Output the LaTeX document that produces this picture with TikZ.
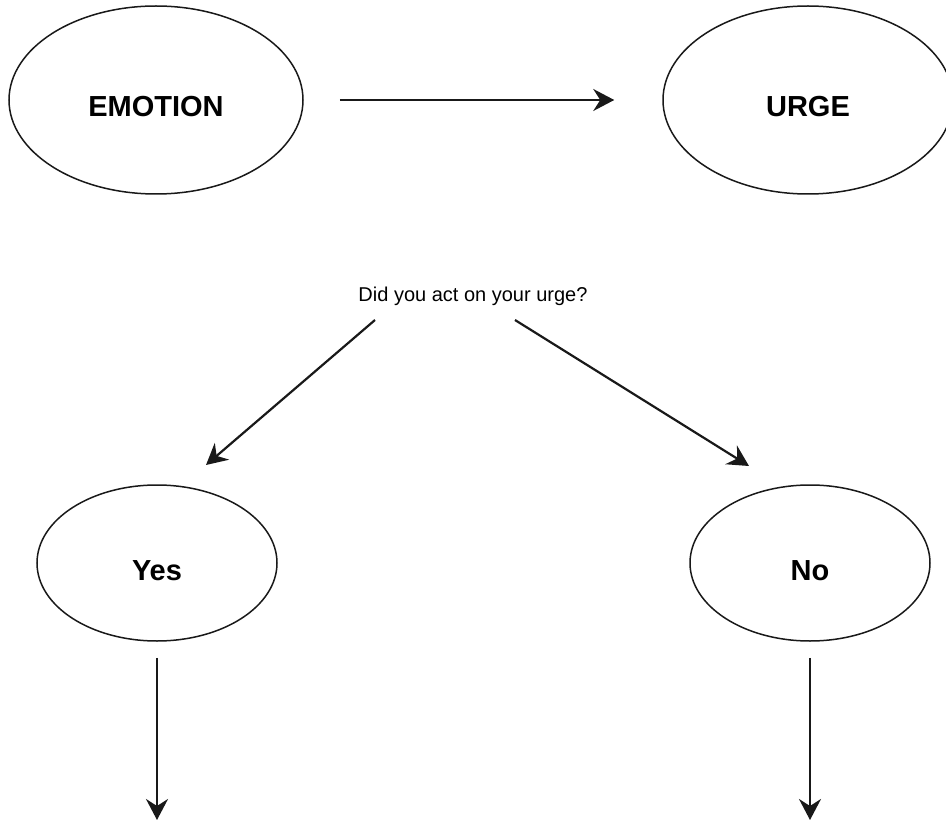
\documentclass[tikz,border=0pt]{standalone}
\usepackage{fontspec}
\setmainfont{Liberation Sans}
\usetikzlibrary{shapes.geometric,arrows.meta}
\begin{document}
\begin{tikzpicture}[x=1pt,y=-1pt,
  oval/.style={ellipse,draw=black!90,line width=1.5pt,inner sep=0pt,text height=34pt,text depth=0pt,
    font=\fontsize{29}{32}\selectfont\bfseries},
  arr/.style={line width=2.2pt,draw=black!90,-{Stealth[length=21pt,width=22pt,inset=7pt]}},
  question/.style={font=\fontsize{20}{24}\selectfont,inner sep=0pt}]
\clip (0,0) rectangle (946,821);
\node[oval,minimum width=294pt,minimum height=188pt] (emo) at (156,100) {EMOTION};
\node[oval,minimum width=290pt,minimum height=188pt] (urge) at (808,100) {URGE};
\node[question] (q) at (473,296) {Did you act on your urge?};
\node[oval,minimum width=240pt,minimum height=156pt] (yes) at (157,563) {Yes};
\node[oval,minimum width=240pt,minimum height=156pt] (no) at (810,563) {No};
\coordinate (l1) at (375,320);
\coordinate (l2) at (206,465);
\coordinate (r1) at (515,320);
\coordinate (r2) at (749,466);
\coordinate (ye) at (157,820);
\coordinate (ne) at (810,820);
\draw[arr] ([xshift=36pt]emo.east) -- ([xshift=-48pt]urge.west);
\draw[arr] (l1) -- (l2);
\draw[arr] (r1) -- (r2);
\draw[arr] ([yshift=-16pt]yes.south) -- (ye);
\draw[arr] ([yshift=-16pt]no.south) -- (ne);
\end{tikzpicture}
\end{document}
